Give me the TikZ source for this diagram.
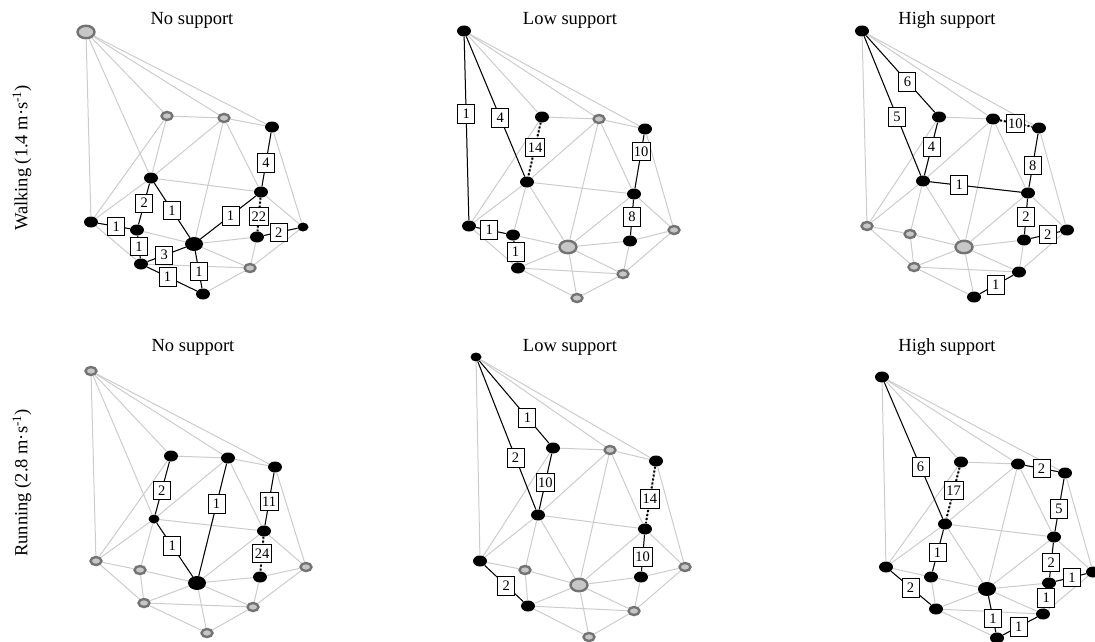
\documentclass[tikz,border=0pt]{standalone}
\usepackage{fontspec}
\setmainfont{Liberation Serif}
\usetikzlibrary{shapes.geometric}

\begin{document}
\begin{tikzpicture}[
    x=1pt, y=-1pt,
    node style/.style={ellipse, fill=black, inner sep=0pt, minimum width=14pt, minimum height=11pt},
    small node style/.style={node style, minimum width=11pt, minimum height=9pt},
    big node style/.style={node style, minimum width=18pt, minimum height=14pt},
    ring style/.style={ellipse, fill=black!22, draw=black!55, line width=2.4pt, inner sep=0pt, minimum width=11pt, minimum height=8pt},
    big ring style/.style={ring style, minimum width=17pt, minimum height=12.5pt},
    grid style/.style={line width=1pt, black!20},
    path style/.style={line width=1pt, black},
    dotted path style/.style={line width=2pt, black, dotted},
    weight style/.style={draw, solid, fill=white, line width=0.8pt, inner sep=2pt, minimum width=17pt, minimum height=18.5pt, font=\fontsize{14.5}{14.5}\selectfont},
    title style/.style={font=\fontsize{18.5}{20}\selectfont}
]

\useasboundingbox (0,0) rectangle (1095,642);

% Column and row titles
\node[title style] (wnT) at (192,20) {No support};
\node[title style] (wlT) at (570,20) {Low support};
\node[title style] (whT) at (947,20) {High support};
\node[title style] (rnT) at (193,347) {No support};
\node[title style] (rlT) at (570,347) {Low support};
\node[title style] (rhT) at (947,347) {High support};
\node[title style, rotate=90] (walk) at (22,158) {Walking (1.4 m·s\textsuperscript{-1})};
\node[title style, rotate=90] (run) at (22,483) {Running (2.8 m·s\textsuperscript{-1})};

% Draw the nodes of each panel
\foreach \n/\s/\x/\y in {A/big ring style/86/32, B/ring style/167/116, C/ring style/224/118, D/node style/272/127,
    E/node style/151/178, F/node style/261/192, G/node style/91/222, H/node style/137/230, I/small node style/303/227,
    J/node style/257/237, K/big node style/194/244, L/node style/141/264, M/ring style/250/268, N/node style/203/294}
    \node[\s] (wn\n) at (\x,\y) {};
\foreach \n/\s/\x/\y in {A/node style/464/31, B/node style/542/117, C/ring style/599/119, D/node style/645/129,
    E/node style/527/182, F/node style/634/194, G/node style/469/226, H/node style/513/235, I/ring style/674/230,
    J/node style/630/241, K/big ring style/568/247, L/node style/518/268, M/ring style/623/274, N/ring style/577/298}
    \node[\s] (wl\n) at (\x,\y) {};
\foreach \n/\s/\x/\y in {A/node style/862/31, B/node style/939/117, C/node style/993/119, D/node style/1039/128,
    E/node style/923/181, F/node style/1028/193, G/ring style/867/226, H/ring style/910/234, I/node style/1067/230,
    J/node style/1024/240, K/big ring style/964/247, L/ring style/914/267, M/node style/1019/272, N/node style/974/297}
    \node[\s] (wh\n) at (\x,\y) {};
\foreach \n/\s/\x/\y in {A/ring style/91/371, B/node style/171/456, C/node style/228/458, D/node style/275/467,
    E/small node style/154/519, F/node style/264/531, G/ring style/96/561, H/ring style/140/570, I/ring style/306/567,
    J/node style/260/577, K/big node style/197/583, L/ring style/144/603, M/ring style/253/607, N/ring style/207/633}
    \node[\s] (rn\n) at (\x,\y) {};
\foreach \n/\s/\x/\y in {A/small node style/476/357, B/node style/553/448, C/ring style/610/450, D/node style/656/461,
    E/node style/538/515, F/node style/645/529, G/node style/480/561, H/ring style/525/570, I/ring style/685/567,
    J/node style/641/577, K/big ring style/579/585, L/node style/528/606, M/ring style/634/611, N/ring style/589/637}
    \node[\s] (rl\n) at (\x,\y) {};
\foreach \n/\s/\x/\y in {A/node style/882/377, B/node style/961/462, C/node style/1018/464, D/node style/1065/473,
    E/node style/945/524, F/node style/1054/537, G/node style/886/567, H/node style/931/577, I/node style/1093/572,
    J/node style/1049/583, K/big node style/987/589, L/node style/936/609, M/node style/1043/614, N/node style/997/638}
    \node[\s] (rh\n) at (\x,\y) {};

% Draw the gray network, the same in all panels
\foreach \p in {wn,wl,wh,rn,rl,rh} {
    \foreach \a/\b in {A/B, A/C, A/D, A/E, A/G, B/C, B/E, B/G, C/D, C/E, C/F, C/K, D/F, D/I, E/F, E/G, E/H, E/K,
        F/I, F/J, F/K, G/H, G/L, H/K, H/L, I/J, I/M, J/K, J/M, K/L, K/M, K/N, L/M, L/N, M/N} {
        \draw[grid style] (\p\a) -- (\p\b);
    }
}

% Walking, no support
\foreach \a/\b/\w/\t in {G/H/1/0.57, E/H/2/0.48, E/K/1/0.5, H/L/1/0.48, L/K/3/0.44, L/N/1/0.41,
    K/N/1/0.55, K/F/1/0.54, F/D/4/0.44, J/I/2/0.44}
    \draw[path style] (wn\a) -- node[weight style, pos=\t] {\w} (wn\b);
\draw[dotted path style] (wnF) -- node[weight style, pos=0.56] {22} (wnJ);

% Walking, low support
\foreach \a/\b/\w/\t in {A/G/1/0.42, A/E/4/0.58, D/F/10/0.31, F/J/8/0.49, G/H/1/0.44, H/L/1/0.51}
    \draw[path style] (wl\a) -- node[weight style, pos=\t] {\w} (wl\b);
\draw[dotted path style] (wlB) -- node[weight style, pos=0.46] {14} (wlE);

% Walking, high support
\foreach \a/\b/\w/\t in {A/B/6/0.6, A/E/5/0.58, B/E/4/0.46, E/F/1/0.32, D/F/8/0.59, F/J/2/0.51,
    J/I/2/0.58, N/M/1/0.48}
    \draw[path style] (wh\a) -- node[weight style, pos=\t] {\w} (wh\b);
\draw[dotted path style] (whC) -- node[weight style, pos=0.48] {10} (whD);

% Running, no support
\foreach \a/\b/\w/\t in {B/E/2/0.55, C/K/1/0.36, D/F/11/0.55, E/K/1/0.43}
    \draw[path style] (rn\a) -- node[weight style, pos=\t] {\w} (rn\b);
\draw[dotted path style] (rnF) -- node[weight style, pos=0.48] {24} (rnJ);

% Running, low support
\foreach \a/\b/\w/\t in {A/B/1/0.69, A/E/2/0.65, B/E/10/0.52, F/J/10/0.61, G/L/2/0.56}
    \draw[path style] (rl\a) -- node[weight style, pos=\t] {\w} (rl\b);
\draw[dotted path style] (rlD) -- node[weight style, pos=0.57] {14} (rlF);

% Running, high support
\foreach \a/\b/\w/\t in {A/E/6/0.62, C/D/2/0.5, D/F/5/0.57, E/H/1/0.55, G/L/2/0.49, F/J/2/0.57,
    J/I/1/0.53, J/M/1/0.47, K/N/1/0.61, N/M/1/0.46}
    \draw[path style] (rh\a) -- node[weight style, pos=\t] {\w} (rh\b);
\draw[dotted path style] (rhB) -- node[weight style, pos=0.45] {17} (rhE);
\end{tikzpicture}
\end{document}
